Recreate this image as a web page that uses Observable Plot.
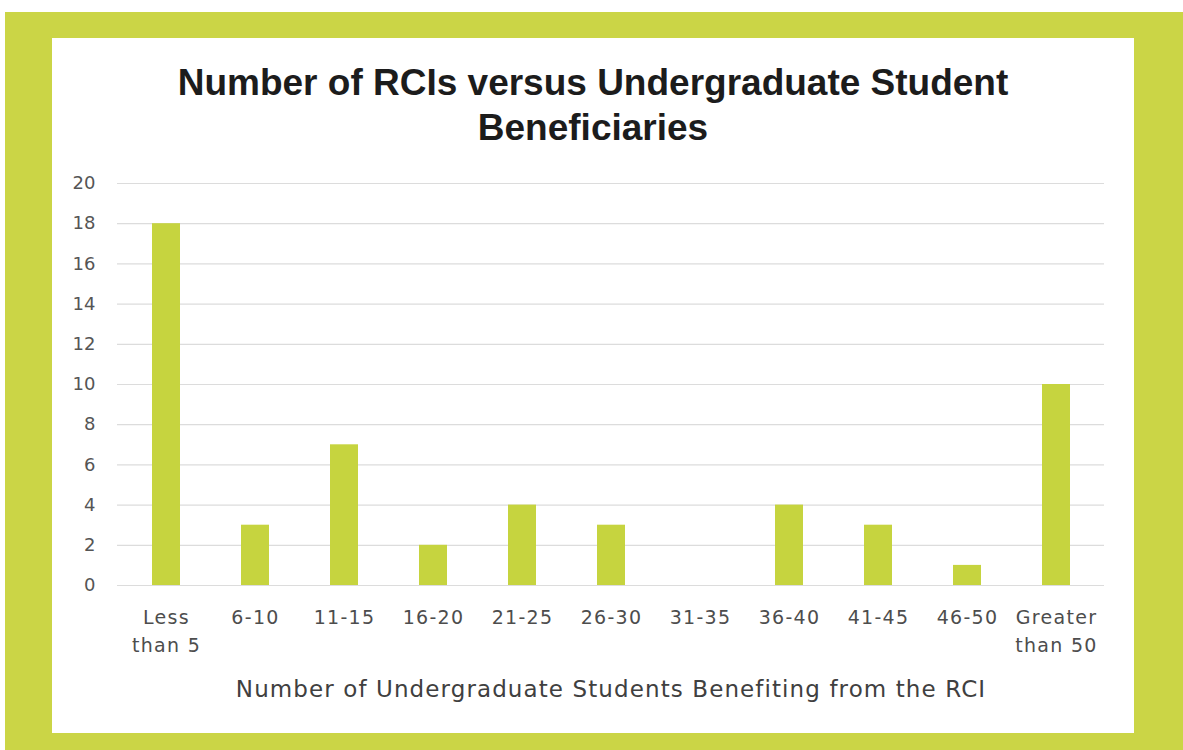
<!DOCTYPE html>
<html>
<head>
<meta charset="utf-8">
<script src="https://cdn.jsdelivr.net/npm/d3@7"></script>
<script src="https://cdn.jsdelivr.net/npm/@observablehq/plot@0.6"></script>
<style>
  html, body { margin: 0; padding: 0; background: #ffffff; width: 1183px; height: 750px; overflow: hidden; }
  #frame { position: absolute; left: 5px; top: 12px; width: 1178px; height: 738px; background: #cbd546; }
  #panel { position: absolute; left: 52px; top: 38px; width: 1082px; height: 695px; background: #ffffff; }
  #title {
    position: absolute; left: 0; top: 22px; width: 1082px; text-align: center;
    font-family: "Liberation Sans Narrow", "Arial Narrow", "Liberation Sans", sans-serif;
    font-weight: bold; font-size: 37px; line-height: 45px; color: #1c1c1c;
  }
  #chart { position: absolute; left: 0; top: 112px; }
  #chart g[aria-label="x-axis tick label"] text { font-size: 19px; letter-spacing: 1.3px; fill: #4d4d4d; }
  #chart g[aria-label="y-axis tick label"] text { font-size: 18px; fill: #555555; }
  #chart g[aria-label="x-axis label"] text { font-size: 23px; letter-spacing: 1.1px; fill: #404040; }
</style>
</head>
<body>
<div id="frame"></div>
<div id="panel">
  <div id="title">Number of RCIs versus Undergraduate Student<br>Beneficiaries</div>
  <div id="chart"></div>
</div>
<script>
const categories = ["Less\nthan 5", "6-10", "11-15", "16-20", "21-25", "26-30", "31-35", "36-40", "41-45", "46-50", "Greater\nthan 50"];
const counts = [18, 3, 7, 2, 4, 3, 0, 4, 3, 1, 10];
const yTicks = [0, 2, 4, 6, 8, 10, 12, 14, 16, 18, 20];
const xTitle = "Number of Undergraduate Students Benefiting from the RCI";

const data = categories.map((c, i) => ({category: c, count: counts[i]}));

const chart = Plot.plot({
  width: 1082,
  height: 583,
  marginLeft: 65,
  marginRight: 30,
  marginTop: 33,
  marginBottom: 148,
  style: {fontFamily: "'DejaVu Sans', Verdana, sans-serif", background: "transparent", color: "#4d4d4d"},
  x: {type: "band", domain: categories, padding: 0.69, paddingOuter: 0.345},
  y: {domain: [0, 20]},
  marks: [
    Plot.gridY(yTicks, {stroke: "#dcdcdc", strokeOpacity: 1, strokeWidth: 1.2}),
    Plot.barY(data, {x: "category", y: "count", fill: "#c6d43f"}),
    Plot.axisY(yTicks, {tickSize: 0, tickPadding: 22, label: null}),
    Plot.axisX({tickSize: 0, tickPadding: 18, lineHeight: 1.5, label: xTitle, labelAnchor: "center", labelOffset: 111, labelArrow: "none"})
  ]
});
document.getElementById("chart").appendChild(chart);
</script>
</body>
</html>
